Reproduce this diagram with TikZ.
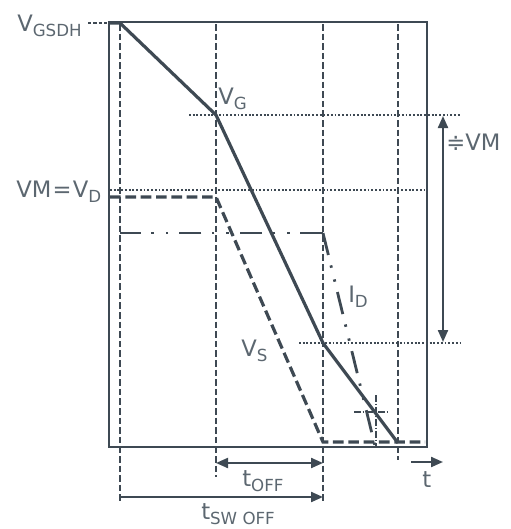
\documentclass[tikz,border=0pt]{standalone}
\usepackage{fontspec}
\setmainfont{DejaVu Sans}
\usetikzlibrary{arrows.meta}
\definecolor{linegray}{HTML}{3E4953}
\definecolor{textgray}{HTML}{5C6770}

\newcommand{\lsub}[1]{\raisebox{-4pt}{\fontsize{12.5}{13}\selectfont #1}}

\begin{document}
\begin{tikzpicture}[x=0.75pt,y=-0.75pt,
  frame/.style={draw=linegray,line width=1.7pt},
  gridline/.style={draw=linegray,line width=1.2pt,dash pattern=on 5pt off 2.2pt},
  level/.style={draw=linegray,line width=1.3pt,dash pattern=on 1.4pt off 1.4pt},
  gcurve/.style={draw=linegray,line width=2.4pt,line join=round},
  scurve/.style={draw=linegray,line width=2.4pt,dash pattern=on 8pt off 3.5pt},
  dcurve/.style={draw=linegray,line width=2.1pt,
                 dash pattern=on 17pt off 8pt on 1.8pt off 9pt on 1.8pt off 8pt},
  crossline/.style={draw=linegray,line width=1.1pt,dash pattern=on 5pt off 1.5pt on 1pt off 1.5pt},
  dimline/.style={draw=linegray,line width=1.6pt},
  tip/.tip={Triangle[length=9pt,width=7.5pt]},
  lbl/.style={text=textgray,font=\fontsize{17}{20}\selectfont,inner sep=0pt,anchor=base west}
]
  \useasboundingbox (0,0) rectangle (511,529);

  % corner points of the gate curve
  \coordinate (g0) at (109,23);
  \coordinate (g1) at (120,23);
  \coordinate (g2) at (216,115);
  \coordinate (g3) at (323,343);
  \coordinate (g4) at (398,443);

  % time marks and levels
  \foreach \x/\yb in {120/503,216/477,323/503,398/460}{
    \draw[gridline] (\x,24) -- (\x,\yb);
  }
  \draw[level] (189,115) -- (461,115);
  \draw[level] (110,190) -- (427,190);
  \draw[level] (299,343) -- (461,343);
  \draw[gridline,dash pattern=on 2.5pt off 1.5pt] (88,23) -- (g0);

  \draw[frame] (109,22) rectangle (427,447);

  % drain current
  \coordinate (d0) at (323,233);
  \draw[dcurve] (d0) -- (120,233);
  \draw[dcurve] (d0) -- (375,446);

  % source voltage
  \draw[scurve] (110,197) -- (216,197) -- (323,442) -- (425,442);

  % gate voltage
  \draw[gcurve] (g0) -- (g1) -- (g2) -- (g3) -- (g4);

  % crossing mark
  \draw[crossline] (354,412) -- (389,412);
  \draw[crossline] (376,395) -- (376,446);

  % dimension arrows
  \coordinate (vmtop) at (443,116);
  \coordinate (vmbot) at (443,342);
  \draw[dimline,tip-tip] (vmtop) -- (vmbot);
  \coordinate (offL) at (216,463);
  \coordinate (offR) at (323,463);
  \draw[dimline,tip-tip] (offL) -- (offR);
  \coordinate (swL) at (120,497);
  \coordinate (swR) at (323,497);
  \draw[dimline,-tip] (swL) -- (swR);
  \coordinate (tL) at (411,462);
  \coordinate (tR) at (443,462);
  \draw[dimline,-tip] (tL) -- (tR);

  % labels
  \node[lbl] (vgsdh) at (17,31)  {V\lsub{GSDH}};
  \node[lbl] (vg)    at (218,104) {V\lsub{G}};
  \node[lbl] (vmvd)  at (16,197) {VM\kern1pt=\kern1ptV\lsub{D}};
  \node[lbl] (vm)    at (446,150) {≑VM};
  \node[lbl] (id)    at (348,302) {I\lsub{D}};
  \node[lbl] (vs)    at (241,356) {V\lsub{S}};
  \node[lbl] (toff)  at (242,486) {t\lsub{OFF}};
  \node[lbl] (tsw)   at (201,519) {t\lsub{SW OFF}};
  \node[lbl] (t)     at (422,487) {t};
\end{tikzpicture}
\end{document}
